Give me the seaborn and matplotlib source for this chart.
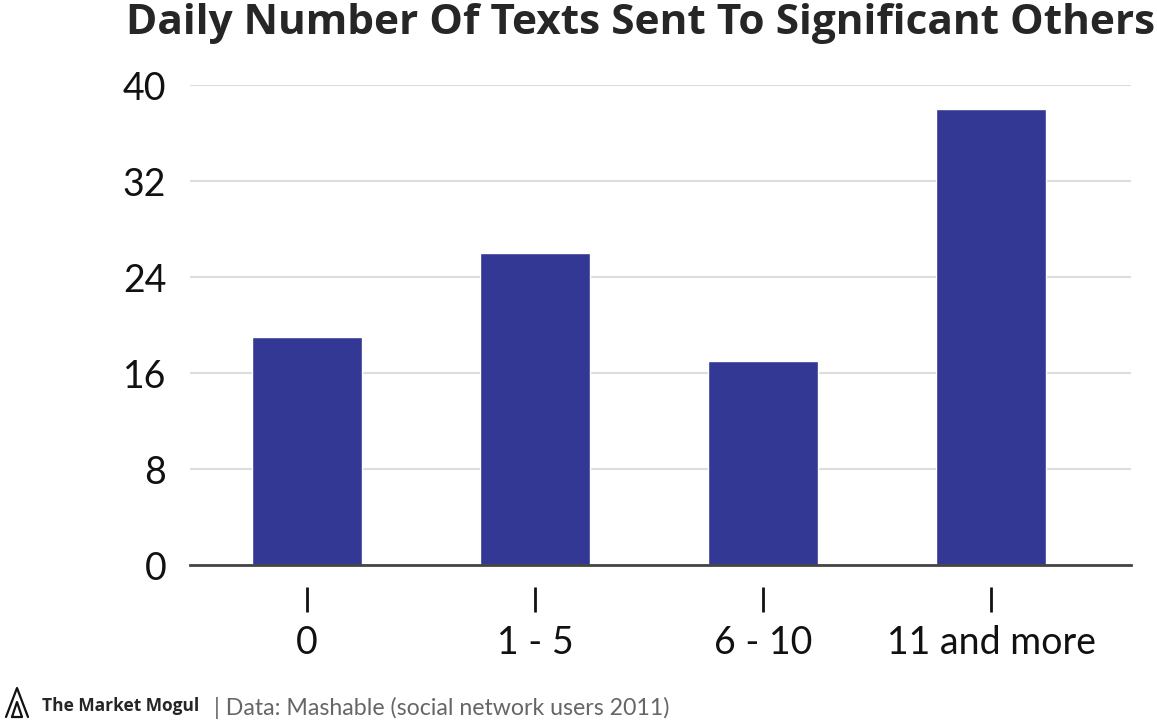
import matplotlib
matplotlib.use("Agg")
import matplotlib.pyplot as plt
from matplotlib.lines import Line2D
import seaborn as sns
import pandas as pd

# data
categories = ["0", "1 - 5", "6 - 10", "11 and more"]
texts_share = [19, 26, 17, 38]
y_ticks = [0, 8, 16, 24, 32, 40]

df = pd.DataFrame({"category": categories, "value": texts_share})

sns.set_style("white")
plt.rcParams["font.family"] = ["Lato", "DejaVu Sans"]

fig = plt.figure(figsize=(11.57, 7.21), dpi=100)
ax = fig.add_axes([190 / 1157, 1 - 565 / 721, (1131 - 190) / 1157, 480 / 721])

sns.barplot(data=df, x="category", y="value", color="#323894", width=0.48,
            saturation=1, ax=ax)

ax.set_xlim(-0.513, 3.614)
ax.set_ylim(0, 40)
ax.set_yticks(y_ticks)
ax.set_yticklabels([str(t) for t in y_ticks], fontsize=27, color="#111111")
ax.tick_params(axis="y", length=0, pad=17)
ax.yaxis.grid(True, color="#dddddd", linewidth=1.5)
ax.set_axisbelow(True)
ax.set_xlabel("")
ax.set_ylabel("")
for s in ["top", "right", "left"]:
    ax.spines[s].set_visible(False)
ax.spines["bottom"].set_color("#444444")
ax.spines["bottom"].set_linewidth(2)

# detached tick marks + labels below the axis line
ax.tick_params(axis="x", length=0, labelbottom=False)
sec = ax.secondary_xaxis(-22 / 480)
sec.set_xticks(range(len(categories)))
sec.set_xticklabels(categories, fontsize=27, color="#111111")
sec.tick_params(axis="x", length=18, width=2, color="#111111", pad=9)
sec.spines["bottom"].set_visible(False)

fig.text(1155 / 1157, 1 - 24 / 721, "Daily Number Of Texts Sent To Significant Others",
         fontsize=30.5, fontweight="bold", va="center", ha="right",
         family=["Open Sans", "DejaVu Sans"])

fig.text(42 / 1157, 1 - 706 / 721, "The Market Mogul", fontsize=12.5,
         fontweight="bold", va="center", ha="left", family=["Open Sans", "DejaVu Sans"])
fig.text(214 / 1157, 1 - 708 / 721, "| Data: Mashable (social network users 2011)",
         fontsize=16.7, color="#666666", va="center", ha="left")

# small logo mark (drawn as a shape)
W, H = 1157, 721
logo = [
    [(6, 717), (17, 688), (28, 717)],
    [(12, 717), (17, 702), (22, 717), (12, 717)],
]
for pts in logo:
    xs = [p[0] / W for p in pts]
    ys = [1 - p[1] / H for p in pts]
    fig.add_artist(Line2D(xs, ys, color="#111111", linewidth=1.6,
                          transform=fig.transFigure))

fig.savefig("out.png", dpi=100)
